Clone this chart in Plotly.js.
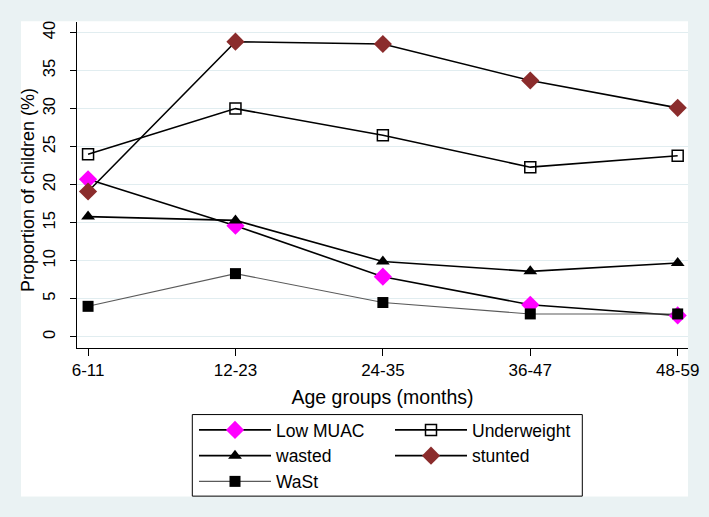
<!DOCTYPE html>
<html>
<head>
<meta charset="utf-8">
<script src="https://cdn.plot.ly/plotly-3.0.1.min.js"></script>
<style>
  html, body { margin: 0; padding: 0; background: #eaf2f3; }
  #ageChart { width: 709px; height: 517px; }
</style>
</head>
<body>
<div id="ageChart"></div>
<script>
// Data per age group
var ageGroups = ['6-11', '12-23', '24-35', '36-47', '48-59']
var lowMuac = [20.7, 14.6, 7.9, 4.2, 2.8]
var underweight = [24.0, 30.0, 26.5, 22.3, 23.8]
var wasted = [15.8, 15.3, 9.9, 8.6, 9.7]
var stunted = [19.1, 38.8, 38.5, 33.7, 30.1]
var wast = [4.0, 8.3, 4.5, 3.0, 3.0]
var yTicks = [0, 5, 10, 15, 20, 25, 30, 35, 40]

var font = 'Liberation Sans, Arial, sans-serif'

var data = [
  {
    x: ageGroups, y: lowMuac, name: 'Low MUAC', mode: 'lines+markers',
    line: { color: '#000000', width: 1.6 },
    marker: { symbol: 'diamond', size: 14, color: '#ff00ff' },
    legend: 'legend'
  },
  {
    x: ageGroups, y: underweight, name: 'Underweight', mode: 'lines+markers',
    line: { color: '#000000', width: 1.6 },
    marker: { symbol: 'square-open', size: 11, color: '#000000', line: { width: 1.5 } },
    legend: 'legend2'
  },
  {
    x: ageGroups, y: wasted, name: 'wasted', mode: 'lines+markers',
    line: { color: '#000000', width: 1.6 },
    marker: { symbol: 'triangle-up', size: 12, color: '#000000' },
    legend: 'legend'
  },
  {
    x: ageGroups, y: stunted, name: 'stunted', mode: 'lines+markers',
    line: { color: '#000000', width: 1.6 },
    marker: { symbol: 'diamond', size: 14, color: '#8b2c2c' },
    legend: 'legend2'
  },
  {
    x: ageGroups, y: wast, name: 'WaSt', mode: 'lines+markers',
    line: { color: '#5a5a5a', width: 1.1 },
    marker: { symbol: 'square', size: 11, color: '#000000' },
    legend: 'legend'
  }
]

var legendBase = {
  xref: 'container', yref: 'container',
  xanchor: 'left', yanchor: 'top',
  orientation: 'v',
  bgcolor: 'rgba(0,0,0,0)',
  borderwidth: 0,
  itemwidth: 72,
  font: { family: font, size: 17.5, color: '#000000' },
  y: 1 - 412 / 517
}

var layout = {
  width: 709,
  height: 517,
  paper_bgcolor: '#eaf2f3',
  plot_bgcolor: '#ffffff',
  margin: { l: 77, r: 21, t: 22, b: 169, autoexpand: false },
  font: { family: font, color: '#000000' },
  showlegend: true,
  legend: Object.assign({}, legendBase, { x: 194 / 709 }),
  legend2: Object.assign({}, legendBase, { x: 390 / 709 }),
  xaxis: {
    type: 'category',
    range: [-0.075, 4.07],
    showline: true, linecolor: '#000000', linewidth: 1,
    ticks: 'outside', ticklen: 7, tickcolor: '#000000',
    showgrid: false, zeroline: false,
    tickfont: { family: font, size: 17 },
    title: { text: 'Age groups (months)', font: { family: font, size: 19.5 }, standoff: 10 }
  },
  yaxis: {
    range: [-1.48, 41.39],
    tickvals: yTicks,
    ticktext: yTicks.map(String),
    tickangle: -90,
    ticklabelstandoff: 8,
    showline: true, linecolor: '#000000', linewidth: 1,
    ticks: 'outside', ticklen: 6, tickcolor: '#000000',
    showgrid: true, gridcolor: '#e1edf0', gridwidth: 1,
    zeroline: true, zerolinecolor: '#e1edf0', zerolinewidth: 1,
    tickfont: { family: font, size: 16.5 }
  },
  annotations: [
    // y axis title
    {
      text: 'Proportion of children (%)',
      xref: 'paper', yref: 'paper',
      x: (28 - 77) / 611, y: (348.3 - 190) / 326.6,
      xanchor: 'center', yanchor: 'middle',
      textangle: -90, showarrow: false,
      font: { family: font, size: 18, color: '#000000' }
    }
  ],
  shapes: [
    // white panel
    {
      type: 'rect', xref: 'paper', yref: 'paper', layer: 'below',
      x0: (21 - 77) / 611, x1: 1, y0: (348.3 - 497) / 326.6, y1: 1.002,
      fillcolor: '#ffffff', line: { width: 0 }
    },
    // legend box
    {
      type: 'rect', xref: 'paper', yref: 'paper', layer: 'above',
      x0: (192.3 - 77) / 611, x1: (582.3 - 77) / 611,
      y0: (348.3 - 496.7) / 326.6, y1: (348.3 - 415) / 326.6,
      fillcolor: 'rgba(0,0,0,0)', line: { color: '#000000', width: 1 }
    }
  ]
}

Plotly.newPlot('ageChart', data, layout, { displayModeBar: false })
</script>
</body>
</html>
